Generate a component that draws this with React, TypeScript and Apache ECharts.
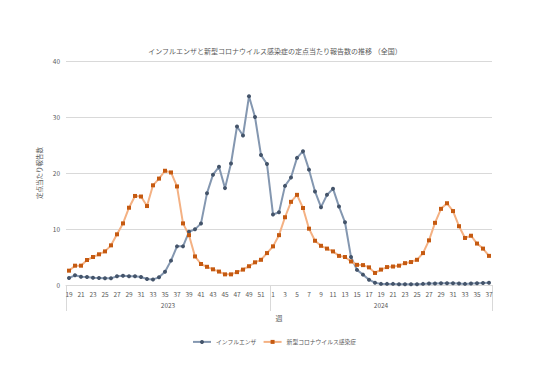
import React, { useEffect, useRef } from "react";
import * as echarts from "echarts";

const weeks2023 = [19, 20, 21, 22, 23, 24, 25, 26, 27, 28, 29, 30, 31, 32, 33, 34, 35, 36, 37, 38, 39, 40, 41, 42, 43, 44, 45, 46, 47, 48, 49, 50, 51, 52];
const weeks2024 = [1, 2, 3, 4, 5, 6, 7, 8, 9, 10, 11, 12, 13, 14, 15, 16, 17, 18, 19, 20, 21, 22, 23, 24, 25, 26, 27, 28, 29, 30, 31, 32, 33, 34, 35, 36, 37];
const yearLabels = ["2023", "2024"];

const influenza = [
  1.25, 1.73, 1.49, 1.43, 1.31, 1.25, 1.19, 1.19, 1.55, 1.67, 1.55, 1.55, 1.43, 1.07, 1.0, 1.37, 2.38, 4.35, 6.9, 6.9,
  9.5, 9.94, 11.0, 16.4, 19.7, 21.1, 17.3, 21.7, 28.3, 26.7, 33.7, 30.0, 23.2, 21.6,
  12.6, 13.0, 17.7, 19.2, 22.7, 23.9, 20.6, 16.7, 13.9, 16.1, 17.2, 14.0, 11.2, 5.0, 2.7, 1.85, 0.95, 0.4,
  0.2, 0.2, 0.2, 0.15, 0.15, 0.15, 0.15, 0.2, 0.25, 0.25, 0.3, 0.3, 0.3, 0.25, 0.2, 0.25, 0.3, 0.35, 0.4,
];

const covid = [
  2.56, 3.45, 3.45, 4.46, 5.0, 5.48, 6.0, 7.08, 9.05, 11.0, 13.8, 15.9, 15.8, 14.1, 17.8, 19.0, 20.4, 20.1, 17.6, 11.0,
  8.9, 5.1, 3.75, 3.25, 2.8, 2.4, 1.9, 1.9, 2.3, 2.75, 3.35, 4.05, 4.5, 5.7,
  6.9, 8.9, 12.1, 14.85, 16.1, 13.75, 10.06, 7.9, 7.0, 6.5, 6.0, 5.2, 5.0, 4.2, 3.6, 3.55, 3.15, 2.15,
  2.75, 3.2, 3.3, 3.45, 3.9, 4.1, 4.5, 5.7, 7.97, 11.1, 13.6, 14.6, 13.2, 10.5, 8.4, 8.8, 7.4, 6.5, 5.2,
];

const yTicks = { min: 0, max: 40, interval: 10 };

const FONT = '"Noto Sans CJK JP", "Noto Sans", sans-serif';
const TXT = "#595959";
const GRID = "#d9d9d9";

export default function App() {
  const ref = useRef<HTMLDivElement>(null);

  useEffect(() => {
    document.body.style.margin = "0";
    if (!ref.current) return;
    const chart = echarts.init(ref.current, null, { renderer: "svg" });

    const categories = [
      ...weeks2023.map((w) => `${yearLabels[0]}-${w}`),
      ...weeks2024.map((w) => `${yearLabels[1]}-${w}`),
    ];
    const boundary = weeks2023.length;
    const total = categories.length;

    chart.setOption({
      animation: false,
      textStyle: { fontFamily: FONT, color: TXT },
      title: {
        text: "インフルエンザと新型コロナウイルス感染症の定点当たり報告数の推移 （全国）",
        left: "center",
        top: 42,
        textStyle: { fontSize: 7, fontWeight: "normal", color: TXT, fontFamily: FONT },
      },
      legend: {
        left: 187,
        top: 334,
        itemWidth: 18,
        itemHeight: 5,
        itemGap: 6,
        textStyle: { fontSize: 5.8, color: TXT, fontFamily: FONT },
        data: ["インフルエンザ", "新型コロナウイルス感染症"],
      },
      grid: { left: 66, right: 58, top: 61, bottom: 103, containLabel: false },
      xAxis: [
        {
          type: "category",
          data: categories,
          boundaryGap: true,
          name: "週",
          nameLocation: "middle",
          nameGap: 29,
          nameTextStyle: { fontSize: 7, color: TXT, fontFamily: FONT },
          axisLine: { lineStyle: { color: GRID } },
          axisTick: { show: false },
          axisLabel: {
            interval: 1,
            fontSize: 6.5,
            color: TXT,
            margin: 6,
            formatter: (v: string) => v.split("-")[1],
          },
          splitLine: { show: false },
        },
        {
          type: "value",
          min: 0,
          max: total,
          position: "bottom",
          offset: 0,
          axisLine: { show: false },
          splitLine: { show: false },
          axisTick: {
            show: true,
            length: 26,
            customValues: [0, boundary, total],
            lineStyle: { color: GRID },
          },
          axisLabel: {
            customValues: [boundary / 2, (boundary + total) / 2],
            fontSize: 6.5,
            color: TXT,
            margin: 17,
            formatter: (v: number) => (v < boundary ? yearLabels[0] : yearLabels[1]),
          },
        },
      ],
      yAxis: {
        type: "value",
        min: yTicks.min,
        max: yTicks.max,
        interval: yTicks.interval,
        name: "定点当たり報告数",
        nameLocation: "middle",
        nameGap: 13,
        nameTextStyle: { fontSize: 6.5, color: TXT, fontFamily: FONT },
        axisLine: { show: false, lineStyle: { color: TXT } },
        axisTick: { show: false },
        axisLabel: { fontSize: 6.5, color: TXT, margin: 6 },
        splitLine: { lineStyle: { color: GRID, width: 1 } },
      },
      series: [
        {
          name: "インフルエンザ",
          type: "line",
          xAxisIndex: 0,
          data: influenza,
          symbol: "circle",
          symbolSize: 4,
          lineStyle: { color: "#8497B0", width: 2 },
          itemStyle: { color: "#44546A" },
        },
        {
          name: "新型コロナウイルス感染症",
          type: "line",
          xAxisIndex: 0,
          data: covid,
          symbol: "rect",
          symbolSize: 4,
          lineStyle: { color: "#F4B183", width: 2 },
          itemStyle: { color: "#C55A11" },
        },
      ],
    });

    return () => chart.dispose();
  }, []);

  return <div ref={ref} style={{ width: 550, height: 388 }} />;
}
